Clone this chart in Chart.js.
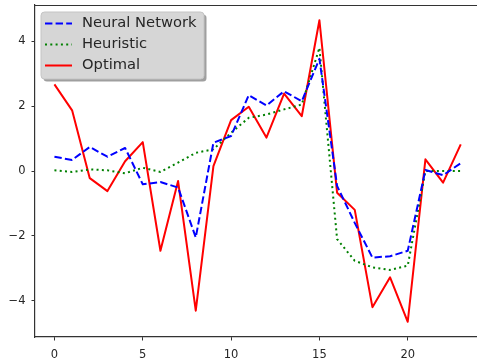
<!DOCTYPE html>
<html>
<head>
<meta charset="utf-8">
<script src="https://cdn.jsdelivr.net/npm/chart.js@4/dist/chart.umd.min.js"></script>
<style>
  html, body { margin: 0; padding: 0; background: #fff; overflow: hidden; }
  canvas { display: block; }
</style>
</head>
<body>
<canvas id="c" width="477" height="362"></canvas>
<script>
// Time steps along the horizontal axis
const steps = [0,1,2,3,4,5,6,7,8,9,10,11,12,13,14,15,16,17,18,19,20,21,22,23];

// Series values per step
const neuralNetwork = [0.44,0.34,0.74,0.44,0.71,-0.41,-0.34,-0.51,-2.05,0.87,1.08,2.34,2.02,2.46,2.15,3.46,-0.46,-1.6,-2.67,-2.63,-2.46,0.03,-0.13,0.24];
const heuristic     = [0.02,-0.03,0.05,0.02,-0.07,0.1,-0.03,0.26,0.56,0.67,1.18,1.64,1.74,1.9,2.05,3.8,-2.1,-2.77,-2.97,-3.05,-2.92,0.0,0.0,0.0];
const optimal       = [2.67,1.87,-0.22,-0.62,0.3,0.89,-2.46,-0.31,-4.31,0.15,1.57,1.98,1.03,2.39,1.69,4.65,-0.67,-1.2,-4.2,-3.28,-4.65,0.36,-0.36,0.82];

// Tick labels
const xTicks = [0,5,10,15,20];
const yTicks = [-4,-2,0,2,4];

const seriesNames = ['Neural Network','Heuristic','Optimal'];
const seriesColors = ['#0000ff','#008000','#ff0000'];
const seriesDash = [[7.4,3.2],[2,3.3],[]];
const seriesValues = [neuralNetwork, heuristic, optimal];

const FONT = '"DejaVu Sans", sans-serif';
const INK = '#262626';

const datasets = seriesValues.map((vals, i) => ({
  label: seriesNames[i],
  data: steps.map((s, k) => ({x: s, y: vals[k]})),
  borderColor: seriesColors[i],
  borderWidth: 2,
  borderDash: seriesDash[i],
  borderCapStyle: 'butt',
  borderJoinStyle: 'round',
  pointRadius: 0,
  tension: 0,
  fill: false
}));

function roundRect(ctx, x, y, w, h, r) {
  ctx.beginPath();
  ctx.moveTo(x + r, y);
  ctx.lineTo(x + w - r, y);
  ctx.arcTo(x + w, y, x + w, y + r, r);
  ctx.lineTo(x + w, y + h - r);
  ctx.arcTo(x + w, y + h, x + w - r, y + h, r);
  ctx.lineTo(x + r, y + h);
  ctx.arcTo(x, y + h, x, y + h - r, r);
  ctx.lineTo(x, y + r);
  ctx.arcTo(x, y, x + r, y, r);
  ctx.closePath();
}

// Frame (top spine) and the boxed legend with drop shadow
const framePlugin = {
  id: 'frameAndLegend',
  afterDraw(chart) {
    const ctx = chart.ctx;
    const a = chart.chartArea;
    ctx.save();
    ctx.strokeStyle = '#333';
    ctx.lineWidth = 1.2;
    ctx.beginPath();
    ctx.moveTo(a.left, a.top + 0.5);
    ctx.lineTo(a.right, a.top + 0.5);
    ctx.stroke();

    // legend box
    const bx = 41, by = 12, bw = 163, bh = 67;
    ctx.fillStyle = 'rgba(80,80,80,0.55)';
    roundRect(ctx, bx + 2.5, by + 2.5, bw, bh, 3.5);
    ctx.fill();
    ctx.fillStyle = '#d6d6d6';
    roundRect(ctx, bx, by, bw, bh, 3.5);
    ctx.fill();
    ctx.strokeStyle = '#c4c4c4';
    ctx.lineWidth = 1;
    ctx.stroke();

    const rows = [23.5, 44.5, 65.5];
    seriesNames.forEach((name, i) => {
      ctx.strokeStyle = seriesColors[i];
      ctx.lineWidth = 2;
      ctx.lineCap = 'butt';
      ctx.setLineDash(seriesDash[i]);
      ctx.beginPath();
      ctx.moveTo(45, rows[i]);
      ctx.lineTo(72, rows[i]);
      ctx.stroke();
      ctx.setLineDash([]);
      ctx.fillStyle = INK;
      ctx.font = '14.7px ' + FONT;
      ctx.textBaseline = 'middle';
      ctx.textAlign = 'left';
      ctx.fillText(name, 82, rows[i]);
    });
    ctx.restore();
  }
};

const minus = v => String(v).replace('-', '\u2212');

new Chart(document.getElementById('c'), {
  type: 'line',
  data: { datasets },
  options: {
    responsive: false,
    animation: false,
    events: [],
    layout: { padding: { top: 5, left: 0, right: 0, bottom: 0 } },
    plugins: { legend: { display: false }, tooltip: { enabled: false } },
    scales: {
      x: {
        type: 'linear',
        min: -1.1,
        max: 23.92,
        afterBuildTicks: s => { s.ticks = xTicks.map(v => ({value: v})); },
        afterFit: s => { s.height = 25; s.paddingLeft = 0; s.paddingRight = 0; },
        grid: { drawOnChartArea: false, drawTicks: true, tickLength: 3.5, color: '#333', lineWidth: 1 },
        border: { display: true, color: '#333', width: 1.2 },
        ticks: { color: INK, font: { family: FONT, size: 11.5 }, padding: 8, maxRotation: 0, autoSkip: false, callback: v => minus(v) }
      },
      y: {
        type: 'linear',
        min: -5.12,
        max: 5.12,
        afterBuildTicks: s => { s.ticks = yTicks.map(v => ({value: v})); },
        afterFit: s => { s.width = 35; s.paddingTop = 0; s.paddingBottom = 0; },
        grid: { drawOnChartArea: false, drawTicks: true, tickLength: 3.5, color: '#333', lineWidth: 1 },
        border: { display: true, color: '#333', width: 1.2 },
        ticks: { color: INK, font: { family: FONT, size: 11.5 }, padding: 6, autoSkip: false, callback: v => minus(v) }
      }
    }
  },
  plugins: [framePlugin]
});
</script>
</body>
</html>
